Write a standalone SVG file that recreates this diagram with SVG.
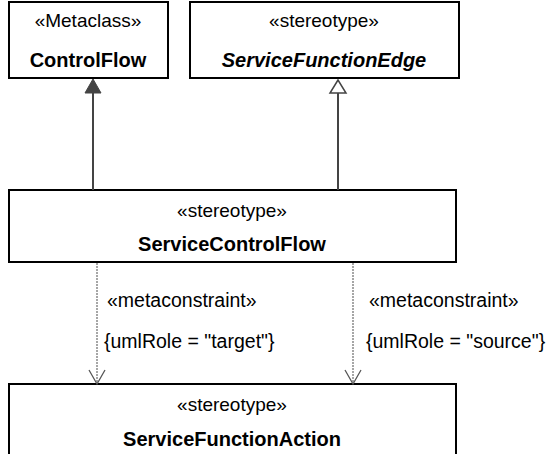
<svg xmlns="http://www.w3.org/2000/svg" width="550" height="454" viewBox="0 0 550 454">
<style>
.box{fill:#fff;stroke:#000;stroke-width:2}
.t{font-family:"Liberation Sans",Arial,sans-serif;font-size:19px;fill:#000;text-anchor:middle}
.b{font-weight:bold;font-size:20px}
.bi{font-weight:bold;font-style:italic;font-size:20px}
.lbl{font-family:"Liberation Sans",Arial,sans-serif;font-size:19.5px;fill:#000}
.gen{stroke:#444;stroke-width:2;fill:none}
.dep{stroke:#777;stroke-width:1.3;stroke-dasharray:2,1;fill:none}
.open{fill:none;stroke:#555;stroke-width:1.3}
</style>
<g id="ControlFlow">
<rect class="box" x="9" y="2" width="159" height="76"/>
<text class="t" x="88" y="27">«Metaclass»</text>
<text class="t b" x="88" y="67">ControlFlow</text>
</g>
<g id="ServiceFunctionEdge">
<rect class="box" x="190" y="2" width="269" height="76"/>
<text class="t" x="324" y="27">«stereotype»</text>
<text class="t bi" x="324" y="67">ServiceFunctionEdge</text>
</g>
<g id="ServiceControlFlow">
<rect class="box" x="9" y="190" width="447" height="72"/>
<text class="t" x="232" y="217">«stereotype»</text>
<text class="t b" x="232" y="251">ServiceControlFlow</text>
</g>
<g id="ServiceFunctionAction">
<rect class="box" x="9" y="384" width="447" height="80"/>
<text class="t" x="232" y="411">«stereotype»</text>
<text class="t b" x="232" y="446">ServiceFunctionAction</text>
</g>
<g id="connectors">
<line class="gen" x1="93" y1="190" x2="93" y2="93"/>
<polygon points="93,79 85,93 101,93" fill="#444" stroke="#444" stroke-width="1"/>
<line class="gen" x1="338" y1="190" x2="338" y2="93"/>
<polygon points="338,80 330,93 346,93" fill="#fff" stroke="#444" stroke-width="1.5"/>
<line class="dep" x1="97" y1="263" x2="97" y2="383"/>
<polyline class="open" points="89,370 97,384 105,370"/>
<line class="dep" x1="353" y1="263" x2="353" y2="383"/>
<polyline class="open" points="345,370 353,384 361,370"/>
<text class="lbl" x="107" y="307">«metaconstraint»</text>
<text class="lbl" x="104" y="348">{umlRole = "target"}</text>
<text class="lbl" x="369" y="307">«metaconstraint»</text>
<text class="lbl" x="366" y="348">{umlRole = "source"}</text>
</g>
</svg>
